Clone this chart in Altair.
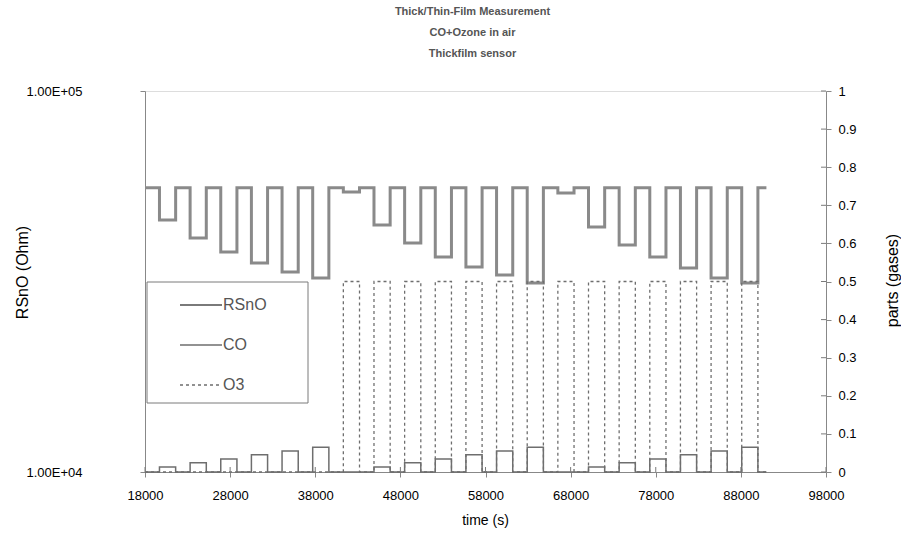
import altair as alt
import pandas as pd

# ---------------- data ----------------
series_names = ["RSnO", "CO", "O3"]

t_begin = 18000
t_end = 91000
pulse_length = 1900
pulse_start = [19700, 23300, 26900, 30500, 34100, 37700, 41300, 44900, 48500, 52100,
               55700, 59300, 62900, 66500, 70100, 73700, 77300, 80900, 84500, 88100]

# sensor resistance (Ohm): level between pulses and level during each pulse
rsno_base = 55700
rsno_pulse = [45850, 41150, 37800, 35370, 33490, 32300,
              54300, 44490, 39900, 36670, 34520, 32880, 31340,
              54000, 43960, 39420, 36670, 34310, 32300, 31340]

# gas concentrations (parts) during each pulse
co_pulse = [0.013, 0.024, 0.034, 0.045, 0.055, 0.065,
            0.0, 0.013, 0.024, 0.034, 0.045, 0.055, 0.065,
            0.0, 0.013, 0.024, 0.034, 0.045, 0.055, 0.065]
o3_pulse = [0.0, 0.0, 0.0, 0.0, 0.0, 0.0,
            0.5, 0.5, 0.5, 0.5, 0.5, 0.5, 0.5,
            0.5, 0.5, 0.5, 0.5, 0.5, 0.5, 0.5]

x_ticks = [18000, 28000, 38000, 48000, 58000, 68000, 78000, 88000, 98000]
left_ticks = [10000, 100000]
right_ticks = [0, 0.1, 0.2, 0.3, 0.4, 0.5, 0.6, 0.7, 0.8, 0.9, 1]

title_lines = ["Thick/Thin-Film Measurement", "CO+Ozone in air", "Thickfilm sensor"]


def step_table(base, levels):
    rows = [(t_begin, base)]
    for s, lv in zip(pulse_start, levels):
        rows += [(s, base), (s, lv), (s + pulse_length, lv), (s + pulse_length, base)]
    rows.append((t_end, base))
    return pd.DataFrame({"t": [r[0] for r in rows], "v": [r[1] for r in rows],
                         "i": list(range(len(rows)))})


rsno_df = step_table(rsno_base, rsno_pulse)
co_df = step_table(0.0, co_pulse)
o3_df = step_table(0.0, o3_pulse)

W, H = 681, 381
FONT = "Liberation Sans"
TXT = "#555555"
AX = "#7a7a7a"
LAB = 13
TIT = 16

x_scale = alt.Scale(domain=[18000, 98000], nice=False, zero=False)
x_enc = alt.X("t:Q", scale=x_scale,
              axis=alt.Axis(values=x_ticks, format="d", title="time (s)", grid=False,
                            tickSize=5, labelPadding=12, labelFlush=False,
                            titleX=340, titleY=48,
                            titleBaseline="middle", titleFontWeight="normal",
                            labelFontSize=LAB, titleFontSize=14))

left = alt.Chart(rsno_df).mark_line(color="#8a8a8a", strokeWidth=3).encode(
    x=x_enc,
    y=alt.Y("v:Q", scale=alt.Scale(type="log", domain=[10000, 100000], nice=False),
            axis=alt.Axis(values=left_ticks, grid=False, title="RSnO (Ohm)",
                          labelExpr="replace(format(datum.value, '.2e'), 'e+', 'E+0')",
                          tickSize=5, labelPadding=58, titleX=-123, titleY=181,
                          titleAngle=270, titleBaseline="middle", titleFontWeight="normal",
                          labelFontSize=LAB, titleFontSize=TIT)),
    order="i:Q",
)

right_scale = alt.Scale(domain=[0, 1], nice=False)
right_axis = alt.Axis(values=right_ticks, format=".1~f", grid=False, orient="right",
                      title="parts (gases)", tickSize=5, labelPadding=7,
                      titleX=66, titleY=189, titleAngle=270, titleBaseline="middle",
                      titleFontWeight="normal", labelFontSize=LAB, titleFontSize=TIT)

co = alt.Chart(co_df).mark_line(color="#6e6e6e", strokeWidth=1.5).encode(
    x="t:Q", y=alt.Y("v:Q", scale=right_scale, axis=right_axis), order="i:Q")
o3 = alt.Chart(o3_df).mark_line(color="#6e6e6e", strokeWidth=1.3, strokeDash=[3, 3]).encode(
    x="t:Q", y=alt.Y("v:Q", scale=right_scale, axis=right_axis), order="i:Q")

# inward halves of the crossing ticks
rt_df = pd.DataFrame({"v": right_ticks})
right_in = alt.Chart(rt_df).mark_rule(color=AX, strokeWidth=1).encode(
    x=alt.value(W - 5), x2=alt.value(W), y=alt.Y("v:Q", scale=right_scale, axis=right_axis))
right_layer = alt.layer(co, o3, right_in)

xt_df = pd.DataFrame({"t": x_ticks})
x_in = alt.Chart(xt_df).mark_rule(color=AX, strokeWidth=1).encode(
    x="t:Q", y=alt.value(H - 5), y2=alt.value(H))

# legend box
box_df = pd.DataFrame({"a": [0]})
legend_box = alt.Chart(box_df).mark_rect(fill="white", stroke=AX, strokeWidth=1).encode(
    x=alt.value(2), x2=alt.value(163), y=alt.value(191), y2=alt.value(312))
legend_parts = [legend_box]
styles = [dict(color="#7a7a7a", strokeWidth=2),
          dict(color="#6e6e6e", strokeWidth=1.5),
          dict(color="#6e6e6e", strokeWidth=1.3, strokeDash=[3, 3])]
for k, name in enumerate(series_names):
    yy = 214 + 40 * k
    row = pd.DataFrame({"name": [name]})
    legend_parts.append(alt.Chart(row).mark_rule(**styles[k]).encode(
        x=alt.value(35), x2=alt.value(77), y=alt.value(yy)))
    legend_parts.append(alt.Chart(row).mark_text(
        align="left", baseline="middle", font=FONT, fontSize=16, color=TXT).encode(
        x=alt.value(78), y=alt.value(yy), text="name:N"))

chart = alt.layer(left, right_layer, x_in, *legend_parts).resolve_scale(
    y="independent"
).properties(
    width=W, height=H,
    autosize=alt.AutoSizeParams(type="none"),
    padding={"left": 145, "top": 91, "right": 75, "bottom": 77},
    title=alt.TitleParams(text=title_lines, anchor="middle", fontSize=11, fontWeight="bold",
                          font=FONT, color=TXT, lineHeight=21, offset=26, dx=-13),
).configure_view(
    stroke=AX, strokeWidth=1
).configure_axis(
    labelFont=FONT, titleFont=FONT,
    labelColor=TXT, titleColor=TXT,
    domainColor=AX, tickColor=AX, domainWidth=1, tickWidth=1,
).configure(background="white")

chart.save("out.html", embed_options={"renderer": "svg", "actions": False})
